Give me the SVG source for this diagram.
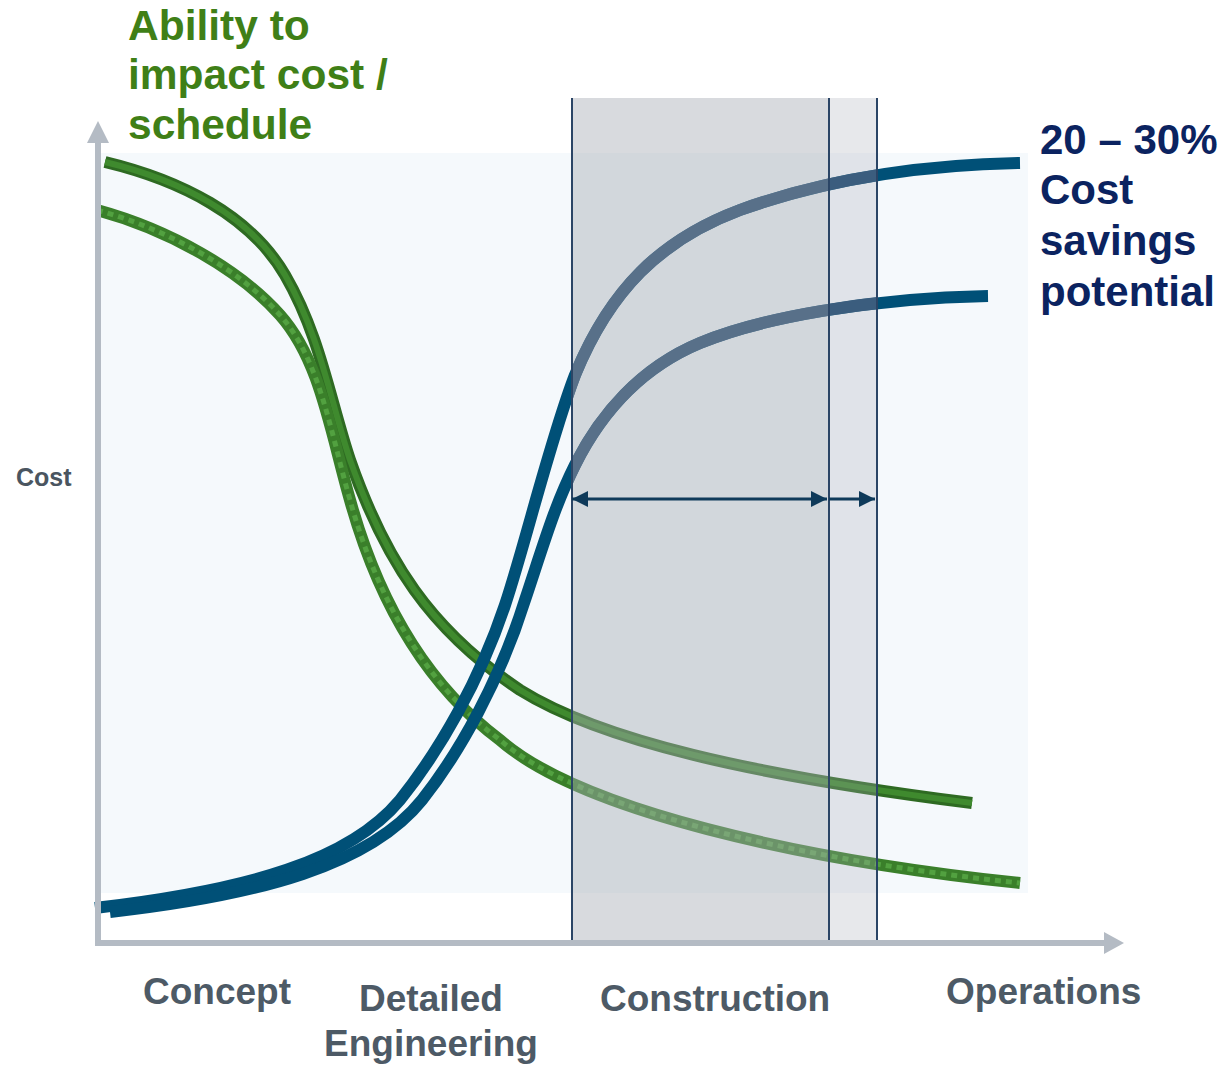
<svg xmlns="http://www.w3.org/2000/svg" width="1227" height="1066" viewBox="0 0 1227 1066">
<style>
.lbl{font-family:"Liberation Sans",Arial,sans-serif;font-weight:bold}
.green{fill:#3f7f17;font-size:42.5px}
.navy{fill:#0b2360;font-size:42px}
.gray{fill:#4d5a66;font-size:37px}
.blue{fill:none;stroke-width:12;stroke-linecap:butt}
.vline{stroke:#2b4566;stroke-width:2}
.axis{stroke:#b4bbc4;stroke-width:6;fill:none}
.arr{stroke:#0f3a5a;stroke-width:3}
</style>
<defs>
<marker id="ah" markerUnits="userSpaceOnUse" markerWidth="16" markerHeight="16" refX="16" refY="8" orient="auto-start-reverse" viewBox="0 0 16 16">
<path d="M0,0 L16,8 L0,16 z" fill="#0f3a5a"/>
</marker>
<clipPath id="clipMain"><rect x="572" y="90" width="257" height="860"/></clipPath>
<clipPath id="clipExt"><rect x="829" y="90" width="48" height="860"/></clipPath>
<path id="blueUp" d="M95,908 C250,890 350,860 400,800 C440,750 480,680 505,605 C525,545 550,440 575,375 C610,290 660,240 740,210 C810,185 900,165 1020,163"/>
<path id="blueLow" d="M110,912 C260,895 370,865 422,800 C460,752 500,680 525,600 C545,540 555,505 575,465 C600,415 640,368 700,343 C760,318 870,298 988,296"/>
</defs>
<rect x="0" y="0" width="1227" height="1066" fill="#ffffff"/>
<rect id="plot-bg" x="100" y="153" width="928" height="740" fill="#f5f9fc"/>

<g id="green-curves" fill="none">
<path d="M105,162 C180,180 250,215 285,275 C320,335 330,400 350,460 C385,560 430,630 520,690 C600,740 750,775 972,803" stroke="#2e6a22" stroke-width="12"/>
<path d="M105,162 C180,180 250,215 285,275 C320,335 330,400 350,460 C385,560 430,630 520,690 C600,740 750,775 972,803" stroke="#3f8a2e" stroke-width="6"/>
<path d="M97,210 C170,230 240,270 280,315 C320,360 330,430 350,500 C375,590 420,680 500,740 C580,810 800,860 1020,883" stroke="#3a7f2a" stroke-width="12"/>
<path d="M97,210 C170,230 240,270 280,315 C320,360 330,430 350,500 C375,590 420,680 500,740 C580,810 800,860 1020,883" stroke="#52a140" stroke-width="5" stroke-dasharray="6 5"/>
</g>

<g id="blue-curves">
<use href="#blueUp" class="blue" stroke="#005077"/>
<use href="#blueLow" class="blue" stroke="#005077"/>
</g>

<g id="construction-band">
<rect x="572" y="98" width="257" height="845" fill="#a9adb6" fill-opacity="0.45"/>
<rect x="829" y="98" width="48" height="845" fill="#a9adb6" fill-opacity="0.28"/>
<g clip-path="url(#clipMain)">
<use href="#blueUp" class="blue" stroke="#587089"/>
<use href="#blueLow" class="blue" stroke="#587089"/>
</g>
<g clip-path="url(#clipExt)">
<use href="#blueUp" class="blue" stroke="#3b5d7e"/>
<use href="#blueLow" class="blue" stroke="#3b5d7e"/>
</g>
<line class="vline" x1="572" y1="98" x2="572" y2="943"/>
<line class="vline" x1="829" y1="98" x2="829" y2="943"/>
<line class="vline" x1="877" y1="98" x2="877" y2="943" stroke="#0d3a5c"/>
</g>

<g id="axes">
<line class="axis" x1="98" y1="946" x2="98" y2="140"/>
<polygon points="98,121 87,143 109,143" fill="#b4bbc4"/>
<line class="axis" x1="95" y1="943" x2="1106" y2="943"/>
<polygon points="1124,943 1104,932 1104,954" fill="#b4bbc4"/>
</g>

<g id="connectors">
<line class="arr" x1="572" y1="499" x2="827" y2="499" marker-start="url(#ah)" marker-end="url(#ah)"/>
<line class="arr" x1="829" y1="499" x2="875" y2="499" marker-end="url(#ah)" stroke="#2c4460"/>
</g>

<g id="label-ability" class="lbl green">
<text x="128" y="40">Ability to</text>
<text x="128" y="89">impact cost /</text>
<text x="128" y="139">schedule</text>
</g>

<g id="label-savings" class="lbl navy">
<text x="1040" y="154">20 – 30%</text>
<text x="1040" y="204">Cost</text>
<text x="1040" y="255">savings</text>
<text x="1040" y="306">potential</text>
</g>

<g id="label-cost">
<text class="lbl" x="16" y="486" font-size="25" fill="#4a5560">Cost</text>
</g>

<g id="phase-concept"><text class="lbl gray" x="143" y="1004">Concept</text></g>
<g id="phase-detailed"><text class="lbl gray" x="431" y="1011" text-anchor="middle">Detailed</text><text class="lbl gray" x="431" y="1056" text-anchor="middle">Engineering</text></g>
<g id="phase-construction"><text class="lbl gray" x="600" y="1011">Construction</text></g>
<g id="phase-operations"><text class="lbl gray" x="946" y="1004">Operations</text></g>
</svg>
